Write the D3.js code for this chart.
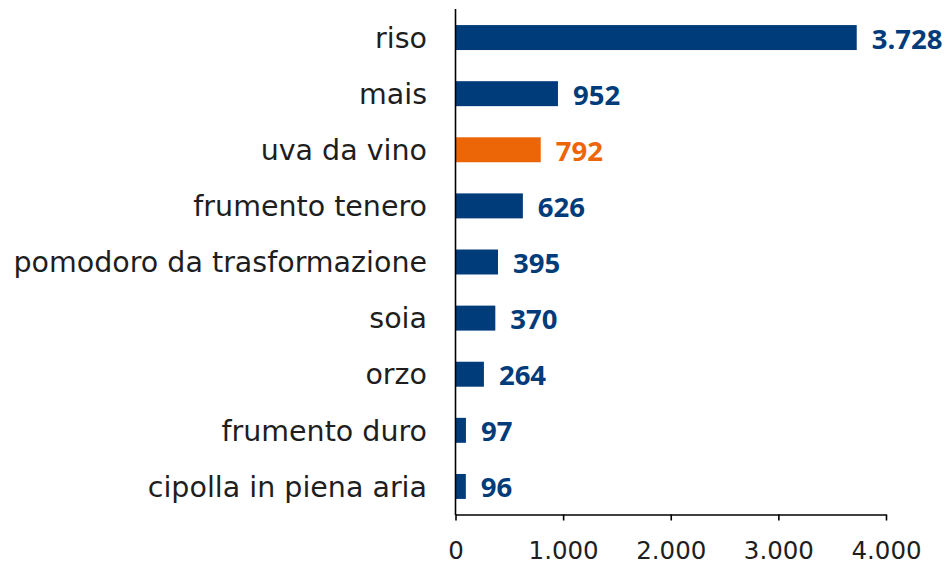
<!DOCTYPE html>
<html><head><meta charset="utf-8">
<script src="https://cdn.jsdelivr.net/npm/d3@7"></script>
<style>body{margin:0;background:#fff}svg{display:block}</style>
</head><body>
<svg id="chart" width="946" height="565"></svg>
<script>
const categories = ["riso","mais","uva da vino","frumento tenero","pomodoro da trasformazione","soia","orzo","frumento duro","cipolla in piena aria"];
const values = [3728, 952, 792, 626, 395, 370, 264, 97, 96];
const highlight = ["uva da vino"];
const xTicks = [0, 1000, 2000, 3000, 4000];

const blue = "#003B7A", orange = "#EC6608";
const svg = d3.select("#chart");
const x = d3.scaleLinear().domain([0, 4000]).range([455.5, 886]);
const y = d3.scaleBand().domain(categories).range([9.5, 514.5]).paddingInner(0.555).paddingOuter(0.2775);
const fmt = v => d3.format(",")(v).replace(/,/g, ".");

const data = categories.map((c, i) => ({c, v: values[i]}));

svg.selectAll("rect.bar").data(data).join("rect")
  .attr("class","bar")
  .attr("x", x(0)).attr("y", d => y(d.c))
  .attr("width", d => x(d.v) - x(0)).attr("height", y.bandwidth())
  .attr("fill", d => highlight.includes(d.c) ? orange : blue);

svg.selectAll("text.val").data(data).join("text")
  .attr("class","val")
  .attr("x", d => x(d.v) + 15).attr("y", d => y(d.c) + y.bandwidth()/2)
  .attr("dy", "0.4em")
  .attr("font-family", "'Open Sans', sans-serif").attr("font-weight", 700).attr("font-size", 27.5)
  .attr("fill", d => highlight.includes(d.c) ? orange : blue)
  .text(d => fmt(d.v));

// category labels
svg.selectAll("text.cat").data(data).join("text")
  .attr("class","cat")
  .attr("x", 427).attr("y", d => y(d.c) + y.bandwidth()/2)
  .attr("dy", "0.36em").attr("text-anchor","end")
  .attr("font-family", "'DejaVu Sans', sans-serif").attr("font-size", 28.5)
  .attr("fill", "#1e1e1e")
  .text(d => d.c);

// y axis line
svg.append("line").attr("x1", x(0)).attr("x2", x(0)).attr("y1", 9).attr("y2", 515)
  .attr("stroke", "#000").attr("stroke-width", 1.6);

// x axis
const xAxis = d3.axisBottom(x).tickValues(xTicks).tickSize(6).tickSizeOuter(0).tickFormat(fmt);
const gx = svg.append("g").attr("transform", "translate(0,514.5)").call(xAxis);
gx.select(".domain").attr("stroke", "#000").attr("stroke-width", 1.6);
gx.selectAll(".tick line").attr("stroke", "#000").attr("stroke-width", 1.6);
gx.selectAll(".tick text").attr("font-family", "'DejaVu Sans', sans-serif").attr("font-size", 24.5)
  .attr("fill", "#1e1e1e").attr("y", 27);
</script>
</body></html>
